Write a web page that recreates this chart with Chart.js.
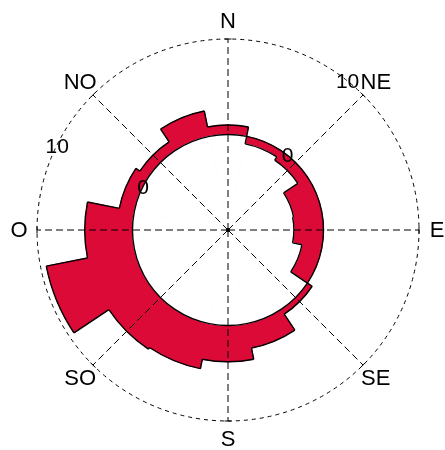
<!DOCTYPE html>
<html>
<head>
<meta charset="utf-8">
<script src="https://cdn.jsdelivr.net/npm/chart.js@4.4.1/dist/chart.umd.min.js"></script>
<style>
    html, body { margin: 0; padding: 0; background: #ffffff; }
    #wrap { width: 445px; height: 450px; position: relative; }
</style>
</head>
<body>
<div id="wrap"><canvas id="rose"></canvas></div>
<script>
// 16 direction bins, clockwise from north
const bins = ['N', 'NNE', 'NE', 'ENE', 'E', 'ESE', 'SE', 'SSE',
              'S', 'SSO', 'SO', 'OSO', 'O', 'ONO', 'NO', 'NNO'];
const values = [1.0, -0.8, -1.2, -3.0, -3.1, -2.1, 0.6, 2.6,
                3.8, 4.8, 5.0, 9.4, 5.0, 1.6, 1.1, 2.7];

// compass labels and radial tick labels
const directions = ['N', 'NE', 'E', 'SE', 'S', 'SO', 'O', 'NO'];
const radialTicks = [0, 10];

const RED = '#dc0a37';
const FONT = '"Liberation Sans", Arial, sans-serif';

// 32 slots: every 4th slot (offset 1) sits on a compass direction
const slotLabels = Array.from({ length: 32 }, (_, i) => i % 4 === 1 ? directions[(i - 1) / 4] : '');

/**
 * Outline of the filled ring, spoke end ticks and all text
 */
const roseDecor = {
    id: 'roseDecor',
    afterDatasetsDraw(chart) {
        const ctx = chart.ctx;
        const inner = chart.getDatasetMeta(0).data;
        const outer = chart.getDatasetMeta(1).data;
        const n = outer.length;
        const cx = outer[0].x, cy = outer[0].y;

        ctx.save();
        ctx.strokeStyle = '#000';
        ctx.lineWidth = 1.4;
        ctx.beginPath();
        for (let i = 0; i < n; i++) {
            const a = outer[i], b = inner[i];
            const na = outer[(i + 1) % n], nb = inner[(i + 1) % n];
            ctx.moveTo(cx + Math.cos(a.startAngle) * a.outerRadius, cy + Math.sin(a.startAngle) * a.outerRadius);
            ctx.arc(cx, cy, a.outerRadius, a.startAngle, a.endAngle);
            ctx.moveTo(cx + Math.cos(b.startAngle) * b.outerRadius, cy + Math.sin(b.startAngle) * b.outerRadius);
            ctx.arc(cx, cy, b.outerRadius, b.startAngle, b.endAngle);

            const e = a.endAngle;
            ctx.moveTo(cx + Math.cos(e) * a.outerRadius, cy + Math.sin(e) * a.outerRadius);
            ctx.lineTo(cx + Math.cos(e) * na.outerRadius, cy + Math.sin(e) * na.outerRadius);
            ctx.moveTo(cx + Math.cos(e) * b.outerRadius, cy + Math.sin(e) * b.outerRadius);
            ctx.lineTo(cx + Math.cos(e) * nb.outerRadius, cy + Math.sin(e) * nb.outerRadius);
        }
        ctx.stroke();
        ctx.restore();
    },
    afterDraw(chart) {
        const ctx = chart.ctx;
        const scale = chart.scales.r;
        const R = scale.drawingArea;
        const cx = scale.xCenter, cy = scale.yCenter;

        ctx.save();
        ctx.strokeStyle = '#000';
        ctx.fillStyle = '#000';
        ctx.lineWidth = 1;

        // small ticks at the ends of the spokes
        directions.forEach((d, k) => {
            const p = scale.getPointPosition(4 * k + 1, R);
            const ang = Math.atan2(p.y - cy, p.x - cx) + Math.PI / 2;
            ctx.beginPath();
            ctx.moveTo(p.x - Math.cos(ang) * 3.5, p.y - Math.sin(ang) * 3.5);
            ctx.lineTo(p.x + Math.cos(ang) * 3.5, p.y + Math.sin(ang) * 3.5);
            ctx.stroke();
        });

        // centre marker
        ctx.beginPath();
        ctx.arc(cx, cy, 2, 0, Math.PI * 2);
        ctx.fill();

        // compass labels
        ctx.font = '22px ' + FONT;
        ctx.textAlign = 'center';
        ctx.textBaseline = 'middle';
        directions.forEach((d, k) => {
            const p = scale.getPointPosition(4 * k + 1, R + 18);
            ctx.fillText(d, p.x, p.y + 1);
        });

        // radial tick labels, drawn along two directions
        ctx.font = '21px ' + FONT;
        [296, 39].forEach(deg => {
            const a = deg * Math.PI / 180;
            radialTicks.forEach(v => {
                const r = scale.getDistanceFromCenterForValue(v) - 1;
                ctx.fillText(String(v), cx + Math.sin(a) * r, cy - Math.cos(a) * r);
            });
        });
        ctx.restore();
    }
};

new Chart(document.getElementById('rose'), {
    type: 'polarArea',
    data: {
        labels: slotLabels,
        datasets: [{
            // inner white part: hides everything below the value for negative bins
            data: values.map(v => Math.min(v, 0)),
            backgroundColor: '#ffffff',
            borderColor: '#ffffff',
            borderWidth: 1
        }, {
            data: values.map(v => Math.max(v, 0)),
            backgroundColor: RED,
            borderColor: RED,
            borderWidth: 1
        }]
    },
    options: {
        responsive: true,
        maintainAspectRatio: false,
        animation: false,
        layout: {
            padding: { left: 37, right: 25, top: 39, bottom: 28 }
        },
        plugins: {
            legend: { display: false },
            tooltip: { enabled: false }
        },
        scales: {
            r: {
                min: -10,
                max: 10,
                startAngle: -11.25,
                ticks: { display: false, stepSize: 10 },
                pointLabels: { display: false },
                grid: {
                    z: 1,
                    circular: true,
                    lineWidth: 1,
                    color: (c) => c.tick && c.tick.value === 10 ? '#000' : ''
                },
                border: { dash: [4, 4] },
                angleLines: {
                    display: true,
                    lineWidth: 1,
                    borderDash: [7, 4],
                    color: (c) => c.index % 4 === 1 ? '#000' : ''
                }
            }
        }
    },
    plugins: [roseDecor]
});
</script>
</body>
</html>
